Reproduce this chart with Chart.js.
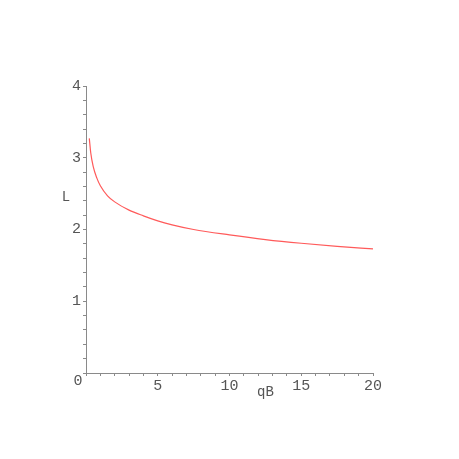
<!DOCTYPE html>
<html>
<head>
<meta charset="utf-8">
<script src="https://cdn.jsdelivr.net/npm/chart.js@4"></script>
<style>
  html, body { margin: 0; padding: 0; background: #fff; }
  #wrap { width: 459px; height: 459px; }
</style>
</head>
<body>
<div id="wrap"><canvas id="plot" width="459" height="459"></canvas></div>
<script>
// values
const qB = [0.23, 0.33, 0.5, 0.75, 1.0, 1.5, 2.0, 3.0, 4.0, 5.0, 6.0, 7.5, 10, 12.5, 15, 17.5, 20];
const L  = [3.27, 3.07, 2.88, 2.72, 2.61, 2.47, 2.385, 2.27, 2.19, 2.12, 2.065, 2.0, 1.925, 1.86, 1.808, 1.765, 1.73];
const xTicks = [5, 10, 15, 20];
const yTicks = [1, 2, 3, 4];

const axisGray = '#8a8a8a';
const textGray = '#555';
const tickFont = { family: 'Liberation Mono', size: 15 };

const pts = qB.map((x, i) => ({ x: x, y: L[i] }));

// draws the shared origin "0" and the two axis names
const extras = {
  id: 'extras',
  afterDraw(chart) {
    const ctx = chart.ctx;
    const xs = chart.scales.x, ys = chart.scales.y;
    ctx.save();
    ctx.fillStyle = textGray;
    ctx.font = '15px "Liberation Mono"';
    ctx.textAlign = 'center';
    ctx.textBaseline = 'middle';
    ctx.fillText('0', xs.getPixelForValue(0) - 8, ys.getPixelForValue(0) + 8);
    ctx.font = '14px "Liberation Mono"';
    ctx.fillText('L', xs.left - 20, ys.getPixelForValue(2.45));
    ctx.fillText('qB', xs.getPixelForValue(12.5), ys.bottom + 19);
    ctx.restore();
  }
};

new Chart(document.getElementById('plot'), {
  type: 'scatter',
  data: {
    datasets: [{
      data: pts,
      showLine: true,
      borderColor: '#ff5a5a',
      borderWidth: 1.2,
      pointRadius: 0,
      cubicInterpolationMode: 'monotone',
      fill: false
    }]
  },
  options: {
    responsive: false,
    animation: false,
    layout: { padding: { left: 0, top: 86, right: 86, bottom: 0 } },
    plugins: { legend: { display: false }, tooltip: { enabled: false } },
    scales: {
      x: {
        type: 'linear',
        min: 0,
        max: 20,
        afterFit(scale) { scale.height = 86; },
        afterBuildTicks(scale) {
          const t = [];
          for (let v = 0; v <= 20; v++) t.push({ value: v });
          scale.ticks = t;
        },
        ticks: {
          autoSkip: false,
          maxRotation: 0,
          padding: 1,
          color: textGray,
          font: tickFont,
          callback: (v) => xTicks.includes(v) ? String(v) : ''
        },
        grid: { drawOnChartArea: false, color: axisGray, tickLength: 3 },
        border: { color: axisGray, width: 1 }
      },
      y: {
        type: 'linear',
        min: 0,
        max: 4,
        afterFit(scale) { scale.width = 86; },
        afterBuildTicks(scale) {
          const t = [];
          for (let i = 0; i <= 20; i++) t.push({ value: i / 5 });
          scale.ticks = t;
        },
        ticks: {
          autoSkip: false,
          padding: 2,
          color: textGray,
          font: tickFont,
          callback: (v) => yTicks.includes(v) ? String(v) : ''
        },
        grid: { drawOnChartArea: false, color: axisGray, tickLength: 3 },
        border: { color: axisGray, width: 1 }
      }
    }
  },
  plugins: [extras]
});
</script>
</body>
</html>
